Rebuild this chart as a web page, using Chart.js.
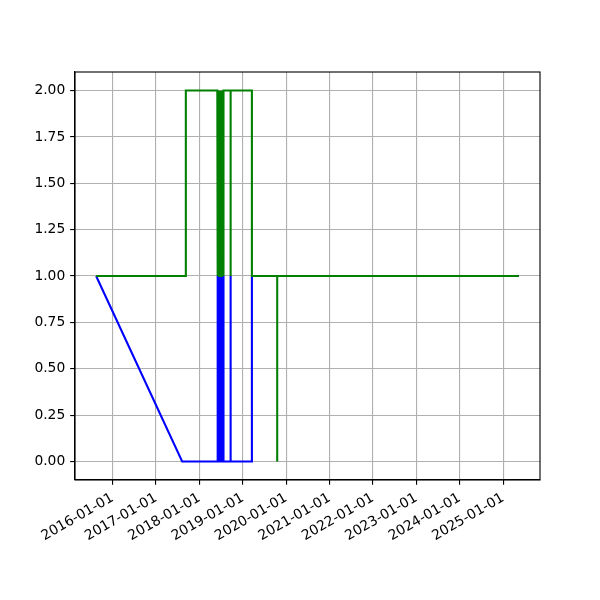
<!DOCTYPE html>
<html>
<head>
<meta charset="utf-8">
<script src="https://cdn.jsdelivr.net/npm/chart.js@4/dist/chart.umd.min.js"></script>
<style>
  body { margin: 0; background: #fff; }
  #wrap { width: 600px; height: 600px; }
</style>
</head>
<body>
<div id="wrap"><canvas id="chart"></canvas></div>
<script>
// tick labels
const xTickLabels = ['2016-01-01', '2017-01-01', '2018-01-01', '2019-01-01', '2020-01-01',
                     '2021-01-01', '2022-01-01', '2023-01-01', '2024-01-01', '2025-01-01'];
const yTickValues = [0, 0.25, 0.5, 0.75, 1, 1.25, 1.5, 1.75, 2];

// blue series
const blueDates = ['2015-08-16', '2017-08-09',
  '2018-06-01', '2018-06-04', '2018-06-07', '2018-06-10', '2018-06-13', '2018-06-16', '2018-06-19',
  '2018-06-22', '2018-06-25', '2018-06-28', '2018-07-01', '2018-07-04', '2018-07-07', '2018-07-10',
  '2018-07-13', '2018-07-16', '2018-07-19', '2018-07-22', '2018-07-24',
  '2018-09-21', '2018-09-21', '2018-09-21',
  '2019-03-19', '2019-03-19', '2025-05-13'];
const blueValues = [1, 0,
  0, 1, 0, 1, 0, 1, 0,
  1, 0, 1, 0, 1, 0, 1,
  0, 1, 0, 1, 0,
  0, 1, 0,
  0, 1, 1];

// green series
const greenDates = ['2015-08-16', '2017-09-09', '2017-09-09',
  '2018-06-01', '2018-06-04', '2018-06-07', '2018-06-10', '2018-06-13', '2018-06-16', '2018-06-19',
  '2018-06-22', '2018-06-25', '2018-06-28', '2018-07-01', '2018-07-04', '2018-07-07', '2018-07-10',
  '2018-07-13', '2018-07-16', '2018-07-19', '2018-07-22', '2018-07-24',
  '2018-09-21', '2018-09-21', '2018-09-21',
  '2019-03-19', '2019-03-19',
  '2019-10-18', '2019-10-18', '2019-10-18', '2025-05-13'];
const greenValues = [1, 1, 2,
  2, 1, 2, 1, 2, 1, 2,
  1, 2, 1, 2, 1, 2, 1,
  2, 1, 2, 1, 2,
  2, 1, 2,
  2, 1,
  1, 0, 1, 1];

const toMs = s => Date.parse(s + 'T00:00:00Z');
const pts = (dates, vals) => dates.map((d, i) => ({ x: toMs(d), y: vals[i] }));

// matplotlib style 5% margins on x
const allX = blueDates.concat(greenDates).map(toMs);
const xMin = Math.min(...allX), xMax = Math.max(...allX);
const xPad = (xMax - xMin) * 0.05;

const pt = 100 / 72;
const tickFont = { family: 'DejaVu Sans', size: 10 * pt };

// top + right spines
const frame = {
  id: 'frame',
  afterDraw(chart) {
    const { ctx, chartArea: a } = chart;
    ctx.save();
    ctx.strokeStyle = '#000';
    ctx.lineWidth = 0.8 * pt;
    ctx.strokeRect(a.left, a.top, a.right - a.left, a.bottom - a.top);
    ctx.restore();
  }
};

new Chart(document.getElementById('chart'), {
  type: 'line',
  data: {
    datasets: [
      {
        label: 'green',
        data: pts(greenDates, greenValues),
        borderColor: '#008000',
        borderWidth: 1.5 * pt,
        pointRadius: 0,
        tension: 0,
        fill: false,
        order: 0
      },
      {
        label: 'blue',
        data: pts(blueDates, blueValues),
        borderColor: '#0000ff',
        borderWidth: 1.5 * pt,
        pointRadius: 0,
        tension: 0,
        fill: false,
        order: 1
      }
    ]
  },
  options: {
    responsive: true,
    maintainAspectRatio: false,
    animation: false,
    layout: { padding: { top: 72, right: 60, left: 0, bottom: 0 } },
    plugins: { legend: { display: false }, tooltip: { enabled: false } },
    scales: {
      x: {
        type: 'linear',
        min: xMin - xPad,
        max: xMax + xPad,
        afterBuildTicks: s => { s.ticks = xTickLabels.map(l => ({ value: toMs(l) })); },
        afterFit: s => { s.height = 120; },
        grid: { color: '#b0b0b0', lineWidth: 0.8 * pt, tickLength: 3.5 * pt, tickColor: '#000' },
        border: { color: '#000', width: 0.8 * pt },
        ticks: {
          font: tickFont,
          color: '#000',
          padding: 3.5 * pt,
          minRotation: 30,
          maxRotation: 30,
          autoSkip: false,
          callback: v => new Date(v).toISOString().slice(0, 10)
        }
      },
      y: {
        min: -0.1,
        max: 2.1,
        afterBuildTicks: s => { s.ticks = yTickValues.map(v => ({ value: v })); },
        afterFit: s => { s.width = 75; },
        grid: { color: '#b0b0b0', lineWidth: 0.8 * pt, tickLength: 3.5 * pt, tickColor: '#000' },
        border: { color: '#000', width: 0.8 * pt },
        ticks: {
          font: tickFont,
          color: '#000',
          padding: 3.5 * pt,
          callback: v => v.toFixed(2)
        }
      }
    }
  },
  plugins: [frame]
});
</script>
</body>
</html>
